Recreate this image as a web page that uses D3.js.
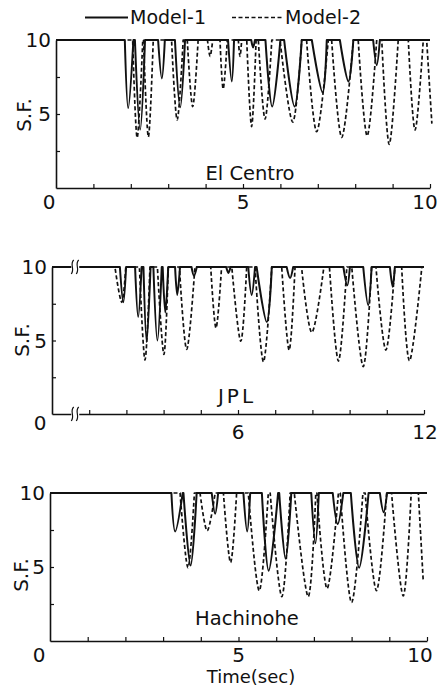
<!DOCTYPE html>
<html>
<head>
<meta charset="utf-8">
<script src="https://cdn.jsdelivr.net/npm/d3@7"></script>
<style>
body { margin: 0; background: #fff; }
svg text { font-family: "DejaVu Sans", sans-serif; fill: #111; }
</style>
</head>
<body>
<div id="chart"></div>
<script>
// each dip: [time it leaves 10, time of minimum, minimum S.F., time it is back at 10]

// El Centro
var elM1 = [
	[1.84, 1.93, 5.4, 2.07], [2.11, 2.25, 3.95, 2.38], [2.73, 2.83, 7.4, 2.91],
	[3.18, 3.32, 5.45, 3.45], [4.6, 4.7, 7.2, 4.76], [5.22, 5.27, 9.5, 5.32],
	[5.6, 5.78, 5.5, 6.0], [6.1, 6.38, 5.5, 6.57], [6.84, 7.13, 6.45, 7.24],
	[7.59, 7.82, 7.2, 7.95], [8.48, 8.575, 8.3, 8.66]
];
var elM1Tail = [[10, 10]];
var elM2 = [
	[2.05, 2.17, 3.4, 2.32], [2.34, 2.47, 3.45, 2.6], [3.09, 3.24, 4.6, 3.4],
	[3.51, 3.655, 5.5, 3.8], [4.05, 4.12, 8.9, 4.19], [4.385, 4.47, 6.7, 4.58],
	[4.875, 4.92, 8.9, 4.965], [5.1, 5.23, 4.15, 5.35], [5.41, 5.59, 4.65, 5.77],
	[5.99, 6.33, 4.45, 6.57], [6.7, 6.97, 3.8, 7.28], [7.37, 7.64, 3.42, 7.95],
	[8.08, 8.32, 3.52, 8.575], [8.71, 8.91, 2.95, 9.15], [9.42, 9.6, 3.92, 9.82]
];
var elM2Tail = [[9.91, 10], [10.05, 4.35]];

// JPL
var jpM1 = [
	[2.19, 2.3, 7.6, 2.39], [2.68, 2.78, 6.6, 2.89], [2.95, 3.055, 4.9, 3.18],
	[3.27, 3.4, 5.0, 3.54], [3.57, 3.655, 6.9, 3.75], [3.97, 4.04, 8.1, 4.13],
	[4.5, 4.58, 9.4, 4.67], [5.62, 5.69, 9.6, 5.76], [6.33, 6.44, 8.1, 6.55],
	[6.6, 6.93, 6.25, 7.09], [7.57, 7.68, 9.25, 7.78], [9.4, 9.525, 8.75, 9.61],
	[10.04, 10.2, 7.4, 10.31], [10.9, 10.99, 8.65, 11.06]
];
var jpM1Tail = [[12, 10]];
var jpM2 = [
	[2.03, 2.25, 7.6, 2.38], [2.82, 3.0, 3.67, 3.16], [3.4, 3.61, 4.05, 3.75],
	[4.11, 4.345, 4.4, 4.61], [5.12, 5.29, 5.85, 5.47], [5.8, 6.09, 4.95, 6.28],
	[6.55, 6.82, 3.55, 7.09], [7.41, 7.65, 4.35, 7.84], [8.05, 8.38, 5.55, 8.77],
	[8.95, 9.24, 3.6, 9.51], [9.67, 10.04, 3.22, 10.31], [10.45, 10.77, 4.35, 11.06],
	[11.28, 11.53, 3.62, 11.93]
];
var jpM2Tail = [[11.96, 10]];

// Hachinohe
var haM1 = [
	[3.22, 3.32, 7.4, 3.52], [3.54, 3.73, 5.1, 3.89], [4.29, 4.38, 8.6, 4.46],
	[5.13, 5.23, 7.4, 5.31], [5.62, 5.8, 4.75, 6.05], [6.08, 6.25, 5.55, 6.4],
	[6.93, 7.04, 6.6, 7.13], [7.5, 7.63, 7.9, 7.78], [7.98, 8.2, 4.95, 8.45],
	[8.75, 8.85, 8.7, 8.94]
];
var haM1Tail = [[10, 10]];
var haM2 = [
	[3.45, 3.66, 4.95, 3.83], [3.98, 4.17, 7.45, 4.38], [4.6, 4.79, 5.3, 4.95],
	[5.26, 5.55, 3.4, 5.79], [5.84, 6.15, 3.0, 6.37], [6.48, 6.85, 3.0, 7.05],
	[7.08, 7.35, 3.55, 7.65], [7.7, 8.0, 2.6, 8.3], [8.36, 8.66, 3.4, 8.93],
	[9.06, 9.37, 3.05, 9.58]
];
var haM2Tail = [[9.77, 10], [9.9, 4.05]];

// ticks and tick labels
var secTicks = [1, 2, 3, 4, 5, 6, 7, 8, 9, 10];
var jplTicks = [1.2, 2.4, 3.6, 4.8, 6, 7.2, 8.4, 9.6, 10.8, 12];
var sfTicks = [2.5, 5, 7.5];
var sfLabels = [5, 10];
var secLabels = [5, 10];
var jplLabels = [6, 12];

var svg = d3.select("#chart").append("svg")
	.attr("width", 439)
	.attr("height", 689);

var panels = [
	{name: "El Centro", m1: elM1, m1Tail: elM1Tail, m2: elM2, m2Tail: elM2Tail, xMax: 10,
	 ticks: secTicks, labels: secLabels, xr: [56, 430], yr: [188, 40],
	 zero: [-7, 14], labDy: 14, lastDx: -5, sfPos: [24, 115], namePos: [250, 173]},
	{name: "JPL", m1: jpM1, m1Tail: jpM1Tail, m2: jpM2, m2Tail: jpM2Tail, xMax: 12,
	 ticks: jplTicks, labels: jplLabels, xr: [52, 424], yr: [414, 267],
	 zero: [-12, 9], labDy: 18, lastDx: 1, sfPos: [22, 340], namePos: [237, 396], brk: 0.75},
	{name: "Hachinohe", m1: haM1, m1Tail: haM1Tail, m2: haM2, m2Tail: haM2Tail, xMax: 10,
	 ticks: secTicks, labels: secLabels, xr: [50, 427], yr: [641, 493],
	 zero: [-11, 14], labDy: 14, lastDx: -7, sfPos: [21, 575], namePos: [247, 618]}
];

// one continuous path: straight runs along 10, each dip a catmull-rom U
function seriesPath(dips, tail, x, y) {
	var dipLine = d3.line()
		.x(function(d) { return x(d[0]); })
		.y(function(d) { return y(d[1]); })
		.curve(d3.curveCatmullRom.alpha(0.5));
	var d = "M" + x(0) + "," + y(10);
	dips.forEach(function(p) {
		d += "L" + x(p[0]) + "," + y(10);
		var s = dipLine([[p[0], 10], [p[1], p[2]], [p[3], 10]]);
		d += s.replace(/^M[^A-Z]*/, "");
	});
	tail.forEach(function(p) {
		d += "L" + x(p[0]) + "," + y(p[1]);
	});
	return d;
}

panels.forEach(function(p) {
	var x = d3.scaleLinear().domain([0, p.xMax]).range(p.xr);
	var y = d3.scaleLinear().domain([0, 10]).range(p.yr);
	var g = svg.append("g");

	// dashed first so the solid line sits on top
	g.append("path")
		.attr("d", seriesPath(p.m2, p.m2Tail, x, y))
		.attr("fill", "none")
		.attr("stroke", "#111")
		.attr("stroke-width", 1.7)
		.attr("stroke-linejoin", "round")
		.attr("stroke-dasharray", "4,2.5");
	g.append("path")
		.attr("d", seriesPath(p.m1, p.m1Tail, x, y))
		.attr("fill", "none")
		.attr("stroke", "#111")
		.attr("stroke-linejoin", "round")
		.attr("stroke-width", 2);

	g.append("g")
		.attr("transform", "translate(0," + p.yr[0] + ")")
		.call(d3.axisBottom(x).tickValues(p.ticks).tickSize(-4).tickSizeOuter(0).tickFormat(""));
	g.append("g")
		.attr("transform", "translate(" + p.xr[0] + ",0)")
		.call(d3.axisLeft(y).tickValues(sfTicks).tickSize(-4).tickSizeOuter(0).tickFormat(""));
	g.selectAll(".domain").attr("stroke", "#111").attr("stroke-width", 1.6);
	g.selectAll(".tick line").attr("stroke", "#111").attr("stroke-width", 1.2);

	// y labels
	g.selectAll(".ylab")
		.data(sfLabels)
		.enter().append("text")
		.attr("x", p.xr[0] - 5)
		.attr("y", function(d) { return y(d); })
		.attr("dy", "0.36em")
		.attr("text-anchor", "end")
		.style("font-size", "20px")
		.text(function(d) { return d; });

	// x labels
	g.selectAll(".xlab")
		.data(p.labels)
		.enter().append("text")
		.attr("x", function(d, i) { return x(d) + (i == p.labels.length - 1 ? p.lastDx : 0); })
		.attr("y", p.yr[0] + p.labDy)
		.attr("dy", "0.36em")
		.attr("text-anchor", "middle")
		.style("font-size", "20px")
		.text(function(d) { return d; });
	g.append("text")
		.attr("x", p.xr[0] + p.zero[0])
		.attr("y", p.yr[0] + p.zero[1])
		.attr("dy", "0.36em")
		.attr("text-anchor", "middle")
		.style("font-size", "20px")
		.text("0");

	g.append("text")
		.attr("transform", "translate(" + p.sfPos[0] + "," + p.sfPos[1] + ") rotate(-90)")
		.attr("dy", "0.36em")
		.attr("text-anchor", "middle")
		.style("font-size", "20px")
		.text("S.F.");

	g.append("text")
		.attr("x", p.namePos[0])
		.attr("y", p.namePos[1])
		.attr("dy", "0.36em")
		.attr("text-anchor", "middle")
		.style("font-size", p.name == "JPL" ? "20px" : "19.5px")
		.style("letter-spacing", p.name == "JPL" ? "3px" : "0px")
		.text(p.name);

	// axis break marks
	if (p.brk) {
		[y(10), y(0)].forEach(function(yy) {
			var bx = x(p.brk);
			g.append("rect")
				.attr("x", bx - 4).attr("y", yy - 3)
				.attr("width", 8).attr("height", 6)
				.attr("fill", "#fff");
			[-3, 2].forEach(function(o) {
				var cx = bx + o;
				g.append("path")
					.attr("d", "M" + (cx + 1.5) + "," + (yy - 7) +
						" C" + (cx - 3) + "," + (yy - 3) + " " + (cx + 3) + "," + (yy + 2) + " " + (cx - 1) + "," + (yy + 7))
					.attr("fill", "none")
					.attr("stroke", "#111")
					.attr("stroke-width", 1.2);
			});
		});
	}
});

svg.append("text")
	.attr("x", 251)
	.attr("y", 677)
	.attr("dy", "0.36em")
	.attr("text-anchor", "middle")
	.style("font-size", "18px")
	.text("Time(sec)");

// legend
var legend = svg.append("g");
legend.append("line")
	.attr("x1", 85).attr("x2", 128).attr("y1", 17.5).attr("y2", 17.5)
	.attr("stroke", "#111").attr("stroke-width", 2);
legend.append("text")
	.attr("x", 130).attr("y", 17.5).attr("dy", "0.36em")
	.style("font-size", "19px")
	.text("Model-1");
legend.append("line")
	.attr("x1", 232).attr("x2", 283).attr("y1", 17.5).attr("y2", 17.5)
	.attr("stroke", "#111").attr("stroke-width", 1.7)
	.attr("stroke-dasharray", "4,2.5");
legend.append("text")
	.attr("x", 285).attr("y", 17.5).attr("dy", "0.36em")
	.style("font-size", "19px")
	.text("Model-2");
</script>
</body>
</html>
